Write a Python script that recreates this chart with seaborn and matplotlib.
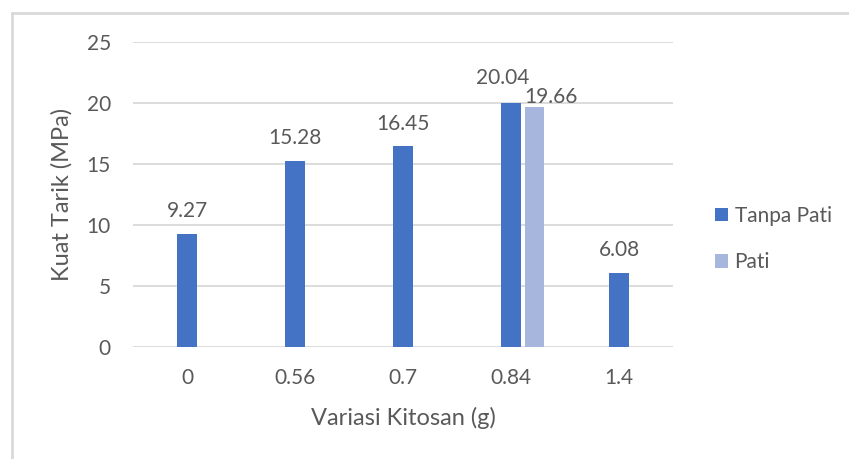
import pandas as pd
import matplotlib
matplotlib.use("Agg")
import matplotlib.pyplot as plt
import seaborn as sns
from matplotlib.lines import Line2D

# data
kitosan = ["0", "0.56", "0.7", "0.84", "1.4"]
tanpa_pati = [9.27, 15.28, 16.45, 20.04, 6.08]
pati_kitosan = ["0.84"]
pati = [19.66]
series = ["Tanpa Pati", "Pati"]
colors = ["#4472C4", "#A7B6DC"]
yticks = [0, 5, 10, 15, 20, 25]

df = pd.concat([
    pd.DataFrame({"kitosan": kitosan, "kuat": tanpa_pati, "sampel": series[0]}),
    pd.DataFrame({"kitosan": pati_kitosan, "kuat": pati, "sampel": series[1]}),
])

sns.set_theme(style="white")
plt.rcParams["font.family"] = ["Lato", "DejaVu Sans"]
grey = "#595959"

fig = plt.figure(figsize=(8.49, 4.59), dpi=100)
ax = fig.add_axes([133/849, 1 - 347/459, 540/849, 305/459])

sns.barplot(data=df, x="kitosan", y="kuat", hue="sampel", order=kitosan,
            hue_order=series, palette=colors, width=0.44, gap=0.2,
            linewidth=0, saturation=1, ax=ax)

# Tanpa Pati sits on the category centre, Pati to its right
for c in ax.containers:
    for p in c:
        p.set_x(p.get_x() + 0.11)

labels = []
for c in ax.containers:
    labels.append(ax.bar_label(c, fmt="%.2f", padding=9, fontsize=15, color=grey))
# nudge the overlapping labels at 0.84 like Excel does
labels[0][3].xyann = (-6, 10.5)
labels[1][0].xyann = (11.5, 0)

ax.set_xlim(-0.5, 4.5)
ax.set_ylim(0, 25)
ax.set_yticks(yticks)
ax.grid(axis="y", color="#d9d9d9", linewidth=1.3)
ax.set_axisbelow(True)
sns.despine(ax=ax, left=True, bottom=True, top=True, right=True)
ax.tick_params(axis="both", length=0, labelsize=15, labelcolor=grey)
ax.tick_params(axis="y", pad=16)
ax.tick_params(axis="x", pad=15)

ax.set_xlabel("Variasi Kitosan (g)", fontsize=17, color=grey)
ax.set_ylabel("Kuat Tarik (MPa)", fontsize=17, color=grey)
ax.xaxis.label.set_va("center")
ax.yaxis.label.set_va("center")
ax.xaxis.set_label_coords(0.5, -0.233)
ax.yaxis.set_label_coords(-0.131, 0.5)

sns.move_legend(ax, "center left", bbox_to_anchor=(705/849, 1 - 239/459),
                bbox_transform=fig.transFigure, title=None, frameon=False,
                fontsize=15, handlelength=0.62, handleheight=0.62,
                handletextpad=0.3, labelspacing=1.28, borderpad=0)
for t in ax.get_legend().get_texts():
    t.set_color(grey)

# chart frame (only top and left edges are in view)
fig.add_artist(Line2D([12/849, 1], [1 - 13/459] * 2, transform=fig.transFigure,
                      color="#d9d9d9", linewidth=2))
fig.add_artist(Line2D([12/849] * 2, [0, 1 - 13/459], transform=fig.transFigure,
                      color="#d9d9d9", linewidth=2))

fig.savefig("out.png", dpi=100)
